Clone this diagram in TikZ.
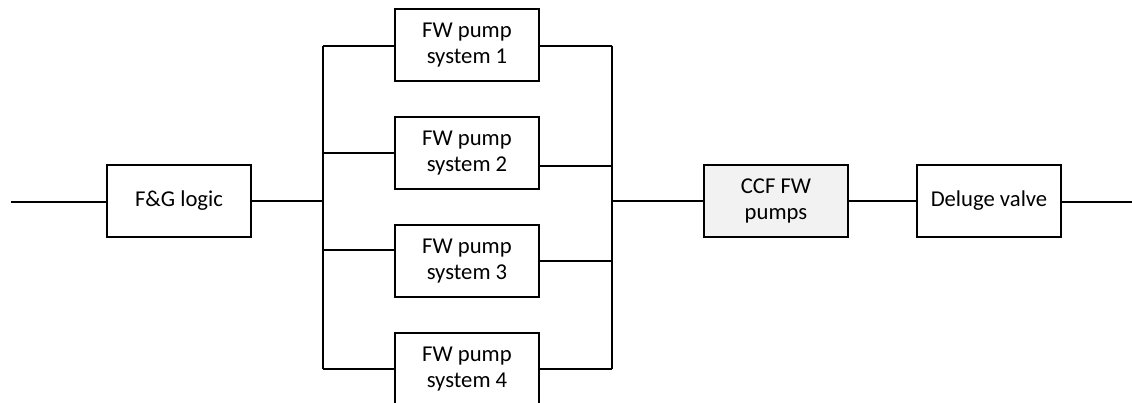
\documentclass[tikz,border=0pt]{standalone}
\usepackage{fontspec}
\setmainfont{Carlito}
\begin{document}
\begin{tikzpicture}[x=0.75pt,y=-0.75pt,
  blk/.style={draw,line width=1.1pt,rectangle,minimum width=108pt,minimum height=54pt,inner sep=0pt,outer sep=0pt,align=center,font=\fontsize{17}{19}\selectfont},
  wire/.style={line width=1.1pt}]
\useasboundingbox (0,0) rectangle (1132,403);
\coordinate (start) at (11,202);
\coordinate (stop) at (1132,202);
\node[blk] (fg) at (179,201) {F\&G logic};
\node[blk] (p1) at (467,45) {FW pump\\system 1};
\node[blk] (p2) at (467,153) {FW pump\\system 2};
\node[blk] (p3) at (467,261) {FW pump\\system 3};
\node[blk] (p4) at (467,369) {FW pump\\system 4};
\node[blk,fill={rgb,255:red,242;green,242;blue,242}] (ccf) at (776,201) {CCF FW\\pumps};
\node[blk] (dv) at (989,201) {Deluge valve};
\coordinate (lt) at (323,46);
\coordinate (lb) at (323,369);
\coordinate (rt) at (612,46);
\coordinate (rb) at (612,369);
\coordinate (l3) at (323,250);
\coordinate (r2) at (612,166);
\draw[wire] (lt) -- (lb);
\draw[wire] (rt) -- (rb);
\draw[wire] (start) -- (start -| fg.west);
\draw[wire] (fg.east) -- (fg.east -| lt);
\draw[wire] (lt) -- (lt -| p1.west);
\draw[wire] (rt) -- (rt -| p1.east);
\draw[wire] (p2.west) -- (p2.west -| lt);
\draw[wire] (r2) -- (r2 -| p2.east);
\draw[wire] (l3) -- (l3 -| p3.west);
\draw[wire] (p3.east) -- (p3.east -| rt);
\draw[wire] (lb) -- (lb -| p4.west);
\draw[wire] (rb) -- (rb -| p4.east);
\draw[wire] (ccf.west) -- (ccf.west -| rt);
\draw[wire] (ccf.east) -- (dv.west);
\draw[wire] (stop) -- (stop -| dv.east);
\end{tikzpicture}
\end{document}
